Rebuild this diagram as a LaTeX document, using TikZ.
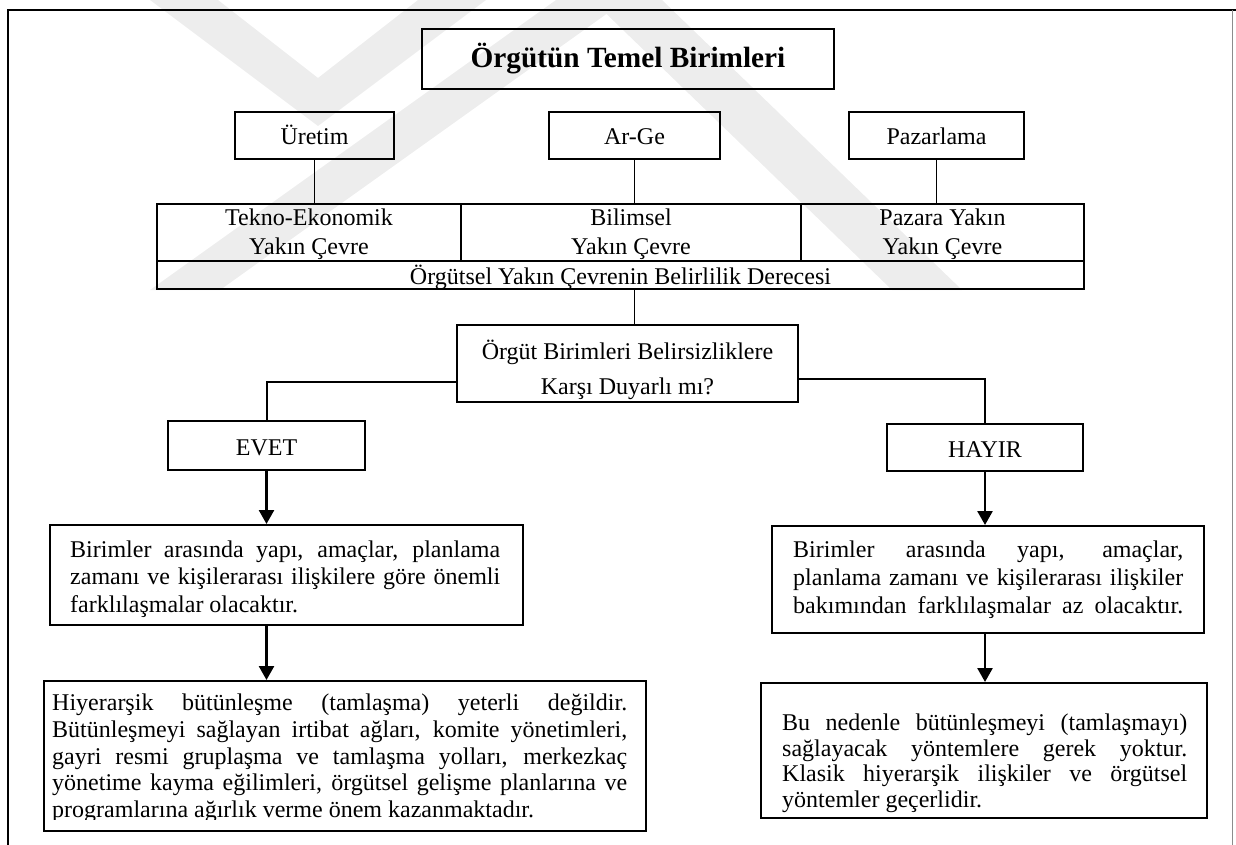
\documentclass[tikz,border=0pt]{standalone}
\usepackage{fontspec}
\setmainfont{Liberation Serif}
\usetikzlibrary{arrows.meta}

\newcommand\bodyfnt{\fontsize{24}{28}\selectfont}
\newcommand\headfnt{\fontsize{29.3}{34}\selectfont\bfseries}
% stack of lines, first baseline is the box baseline
\newcommand\linestack[2]{\vtop{\baselineskip=#1pt\lineskiplimit=-100pt\lineskip=0pt #2}}
% one justified line of a given width
\newcommand\jstline[2]{\hbox{\makebox[#1pt][s]{#2}}}
% one ragged (last) line of a given width
\newcommand\rgline[2]{\hbox{\makebox[#1pt][l]{#2}}}
% one centred line of a given width
\newcommand\ctline[2]{\hbox to #1pt{\hss #2\hss}}
% two centred lines for a table cell
\newcommand\twoline[2]{\linestack{29}{\ctline{260}{#1}\ctline{260}{#2}}}

\tikzset{
  box/.style={draw, line width=2pt, inner sep=0pt, align=center, font=\bodyfnt},
  onerow/.style={text height=23pt, text depth=4pt},
  tworow/.style={text height=18pt, text depth=33pt},
  txt/.style={inner sep=0pt, font=\bodyfnt},
  link/.style={line width=1.6pt},
  branch/.style={line width=2pt},
  flow/.style={line width=2.6pt, -{Triangle[length=14pt,width=15pt]}},
  mark band/.style={fill=black!7, draw=none},
}

\begin{document}
\begin{tikzpicture}[x=1pt,y=-1pt]
\useasboundingbox (0,0) rectangle (1236,845);

% faint background emblem
\fill[mark band] (150,0) -- (218,0) -- (318,78) -- (418,0) -- (486,0) -- (318,126) -- cycle;
\fill[mark band] (556,0) -- (626,0) -- (220,290) -- (150,290) -- cycle;
\fill[mark band] (592,0) -- (662,0) -- (962,290) -- (892,290) -- cycle;

% page frame
\draw[line width=2pt] (8,845) -- (8,10) -- (1236,10);
\draw[line width=1pt, black!45] (1232,10) -- (1232,845);

% top level
\node[box, font=\headfnt, text height=24pt, text depth=6pt, minimum width=412, minimum height=60] (title) at (628,59) {Örgütün Temel Birimleri};

\node[box, onerow, minimum width=159, minimum height=47] (uretim) at (314.5,135.5) {Üretim};
\node[box, onerow, minimum width=171, minimum height=47] (arge) at (634.5,135.5) {Ar-Ge};
\node[box, onerow, minimum width=175, minimum height=47] (pazarlama) at (936.5,135.5) {Pazarlama};

% environment table
\node[box, tworow, minimum width=304, minimum height=57] (tekno) at (309,232.5) {\twoline{Tekno-Ekonomik}{Yakın Çevre}};
\node[box, tworow, minimum width=340, minimum height=57] (bilimsel) at (631,232.5) {\twoline{Bilimsel}{Yakın Çevre}};
\node[box, tworow, minimum width=283, minimum height=57] (pazara) at (942.5,232.5) {\twoline{Pazara Yakın}{Yakın Çevre}};
\node[box, text height=22pt, text depth=4pt, minimum width=927, minimum height=28] (degree) at (620.5,275) {Örgütsel Yakın Çevrenin Belirlilik Derecesi};

% question
\node[box, minimum width=341, minimum height=77] (q) at (627.5,363.5) {};
\node[txt, anchor=base] (qtext) at (627.5,359.4)
  {\linestack{35}{\ctline{330}{Örgüt Birimleri Belirsizliklere}\ctline{330}{Karşı Duyarlı mı?}}};

% answers
\node[box, onerow, minimum width=197, minimum height=49] (evet) at (266.5,445.5) {EVET};
\node[box, onerow, minimum width=196, minimum height=47] (hayir) at (985,447.5) {HAYIR};

% consequences, left branch
\node[box, minimum width=473, minimum height=100] (midL) at (286.5,575) {};
\node[txt, anchor=base west] (midLtext) at (70,557.4)
  {\linestack{27.5}{%
    \jstline{430}{Birimler arasında yapı, amaçlar, planlama}%
    \jstline{430}{zamanı ve kişilerarası ilişkilere göre önemli}%
    \rgline{430}{farklılaşmalar olacaktır.}}};

\node[box, minimum width=602, minimum height=150] (botL) at (345,756) {};
\begin{scope}
  \clip (46,683) rectangle (644,819.5);
  \node[txt, anchor=base west] (botLtext) at (52,710.4)
    {\linestack{26.8}{%
      \jstline{575}{Hiyerarşik bütünleşme (tamlaşma) yeterli değildir.}%
      \jstline{575}{Bütünleşmeyi sağlayan irtibat ağları, komite yönetimleri,}%
      \jstline{575}{gayri resmi gruplaşma ve tamlaşma yolları, merkezkaç}%
      \jstline{575}{yönetime kayma eğilimleri, örgütsel gelişme planlarına ve}%
      \rgline{575}{programlarına ağırlık verme önem kazanmaktadır.}}};
\end{scope}

% consequences, right branch
\node[box, minimum width=432, minimum height=107] (midR) at (988,579.5) {};
\node[txt, anchor=base west] (midRtext) at (793,557.4)
  {\linestack{28}{%
    \jstline{390}{Birimler arasında yapı, amaçlar,}%
    \jstline{390}{planlama zamanı ve kişilerarası ilişkiler}%
    \jstline{390}{bakımından farklılaşmalar az olacaktır.}}};

\node[box, minimum width=446, minimum height=135] (botR) at (984,750.5) {};
\node[txt, anchor=base west] (botRtext) at (782,730.4)
  {\linestack{25.7}{%
    \jstline{405}{Bu nedenle bütünleşmeyi (tamlaşmayı)}%
    \jstline{405}{sağlayacak yöntemlere gerek yoktur.}%
    \jstline{405}{Klasik hiyerarşik ilişkiler ve örgütsel}%
    \rgline{405}{yöntemler geçerlidir.}}};

% connectors
\draw[link] (uretim.south) -- (uretim.south |- tekno.north);
\draw[link] (arge.south) -- (arge.south |- bilimsel.north);
\draw[link] (pazarlama.south) -- (pazarlama.south |- pazara.north);
\draw[link] (degree.south -| arge.south) -- (q.north -| arge.south);
\draw[branch] (q.west |- 0,382) -| (evet.north);
\draw[branch] (q.east |- 0,379) -| (hayir.north);
\draw[flow] (evet.south) -- (evet.south |- midL.north);
\draw[flow] (midL.south -| evet.south) -- (botL.north -| evet.south);
\draw[flow] (hayir.south) -- (hayir.south |- midR.north);
\draw[flow] (midR.south -| hayir.south) -- (botR.north -| hayir.south);
\end{tikzpicture}
\end{document}
